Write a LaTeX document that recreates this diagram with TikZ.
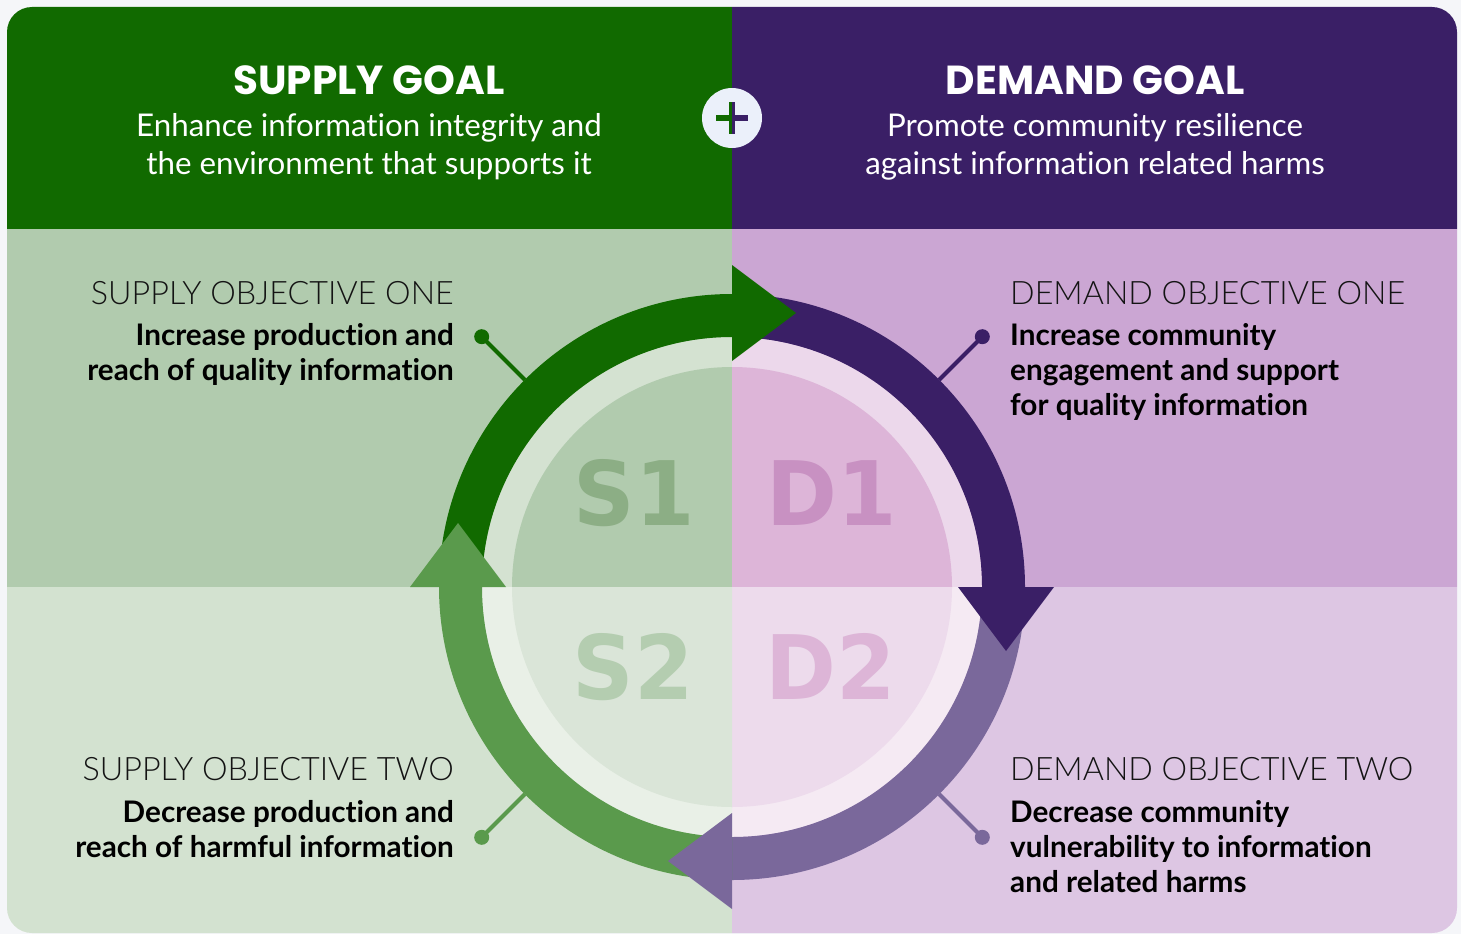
\documentclass[tikz,border=0pt]{standalone}
\usepackage{fontspec}
\usepackage{graphicx}
\setmainfont{Lato}[Ligatures=NoCommon]
\newfontfamily\titlefont{Poppins}
\newfontfamily\bigfont{DejaVu Sans}
\IfFontExistsTF{Lato Light}{\newfontfamily\lightfont{Lato Light}[Ligatures=NoCommon]}{\newfontfamily\lightfont{Lato}[Ligatures=NoCommon]}
\definecolor{pagebg}{HTML}{F5F6F9}
\definecolor{supgreen}{HTML}{116A00}
\definecolor{dempurple}{HTML}{3A1F66}
\definecolor{ulbg}{HTML}{B1CBAE}
\definecolor{urbg}{HTML}{CBA6D3}
\definecolor{llbg}{HTML}{D3E2D0}
\definecolor{lrbg}{HTML}{DDC6E3}
\definecolor{ulring}{HTML}{D4E2D1}
\definecolor{urring}{HTML}{ECD8EB}
\definecolor{llring}{HTML}{E9F0E7}
\definecolor{lrring}{HTML}{F5EAF3}
\definecolor{ulin}{HTML}{B1CBAE}
\definecolor{urin}{HTML}{DDB5D8}
\definecolor{llin}{HTML}{DAE5D8}
\definecolor{lrin}{HTML}{EDDBEC}
\definecolor{sone}{HTML}{8CAE85}
\definecolor{done}{HTML}{C891C2}
\definecolor{stwo}{HTML}{B4CDB0}
\definecolor{dtwo}{HTML}{DDB5D7}
\definecolor{medpurple}{HTML}{7A689B}
\definecolor{ltgreen}{HTML}{5A9A4C}
\definecolor{plusbg}{HTML}{EBF0FA}
\definecolor{txt}{HTML}{141414}
\begin{document}
\begin{tikzpicture}[x=1pt,y=-1pt,
  goaltitle/.style={inner sep=0pt, text=white, font={\titlefont\bfseries\fontsize{40.5}{40}\selectfont}},
  goalsub/.style={inner sep=0pt, text=white, font={\fontsize{31.3}{31}\selectfont}},
  objlabel/.style={inner sep=0pt, text=txt, font={\lightfont\fontsize{32.3}{32}\selectfont}},
  objtext/.style={inner sep=0pt, text=black, font={\bfseries\fontsize{29.7}{30}\selectfont}},
  bigtag/.style={inner sep=0pt, font={\bigfont\bfseries\fontsize{89}{89}\selectfont}},
  leader/.style={line width=4pt},
  dotmark/.style={circle, inner sep=0pt, minimum size=15pt}
]
\useasboundingbox (0,0) rectangle (1461,934);
\fill[pagebg] (0,0) rectangle (1461,934);
% panels
\begin{scope}
  \clip[rounded corners=25pt] (7,7) rectangle (1457,933);
  \fill[supgreen] (0,0) rectangle (732,229);
  \fill[dempurple] (732,0) rectangle (1461,229);
  \fill[ulbg] (0,229) rectangle (732,587);
  \fill[urbg] (732,229) rectangle (1461,587);
  \fill[llbg] (0,587) rectangle (732,934);
  \fill[lrbg] (732,587) rectangle (1461,934);
\end{scope}
\coordinate (C) at (732,587);
\begin{scope}[shift={(732,587)}]
  % ring
  \fill[ulring] (0,0) -- (180:250) arc[start angle=180,end angle=270,radius=250] -- cycle;
  \fill[urring] (0,0) -- (270:250) arc[start angle=270,end angle=360,radius=250] -- cycle;
  \fill[lrring] (0,0) -- (0:250) arc[start angle=0,end angle=90,radius=250] -- cycle;
  \fill[llring] (0,0) -- (90:250) arc[start angle=90,end angle=180,radius=250] -- cycle;
  % inner disc
  \fill[ulin] (0,0) -- (180:220) arc[start angle=180,end angle=270,radius=220] -- cycle;
  \fill[urin] (0,0) -- (270:220) arc[start angle=270,end angle=360,radius=220] -- cycle;
  \fill[lrin] (0,0) -- (0:220) arc[start angle=0,end angle=90,radius=220] -- cycle;
  \fill[llin] (0,0) -- (90:220) arc[start angle=90,end angle=180,radius=220] -- cycle;
  % arrow bodies
  \fill[supgreen] (180:293) arc[start angle=180,end angle=270,radius=293] -- (270:250) arc[start angle=270,end angle=180,radius=250] -- cycle;
  \fill[dempurple] (270:293) arc[start angle=270,end angle=360,radius=293] -- (0:250) arc[start angle=360,end angle=270,radius=250] -- cycle;
  \fill[medpurple] (0:293) arc[start angle=0,end angle=90,radius=293] -- (90:250) arc[start angle=90,end angle=0,radius=250] -- cycle;
  \fill[ltgreen] (90:293) arc[start angle=90,end angle=180,radius=293] -- (180:250) arc[start angle=180,end angle=90,radius=250] -- cycle;
  % arrow heads
  \fill[supgreen] (0,-322) -- (64,-274) -- (0,-226) -- cycle;
  \fill[dempurple] (226,0) -- (274,64) -- (322,0) -- cycle;
  \fill[medpurple] (0,226) -- (-64,274) -- (0,322) -- cycle;
  \fill[ltgreen] (-226,0) -- (-274,-64) -- (-322,0) -- cycle;
  % leader end points
  \coordinate (s1a) at (225:293); \coordinate (s1b) at (225:354);
  \coordinate (d1a) at (315:293); \coordinate (d1b) at (315:354);
  \coordinate (s2a) at (135:293); \coordinate (s2b) at (135:354);
  \coordinate (d2a) at (45:293);  \coordinate (d2b) at (45:354);
\end{scope}
% leaders with dots
\node[dotmark, fill=supgreen] (s1dot) at (s1b) {};
\node[dotmark, fill=dempurple] (d1dot) at (d1b) {};
\node[dotmark, fill=ltgreen] (s2dot) at (s2b) {};
\node[dotmark, fill=medpurple] (d2dot) at (d2b) {};
\draw[leader, supgreen] (s1a) -- (s1dot.center);
\draw[leader, dempurple] (d1a) -- (d1dot.center);
\draw[leader, ltgreen] (s2a) -- (s2dot.center);
\draw[leader, medpurple] (d2a) -- (d2dot.center);
% big tags
\node[bigtag, text=sone, anchor=base] (S1) at (634,525) {\scalebox{0.96}[1]{S1}};
\node[bigtag, text=done, anchor=base] (D1) at (832,525) {\scalebox{0.96}[1]{D1}};
\node[bigtag, text=stwo, anchor=base] (S2) at (633,699) {\scalebox{0.96}[1]{S2}};
\node[bigtag, text=dtwo, anchor=base] (D2) at (831,699) {\scalebox{0.96}[1]{D2}};
% plus badge
\node[circle, fill=plusbg, minimum size=60pt, inner sep=0pt] (plus) at (732,118) {};
\fill[supgreen] (716,115) rectangle (732,121);
\fill[dempurple] (732,115) rectangle (748,121);
\fill[supgreen] (729,102) rectangle (732,134);
\fill[dempurple] (732,102) rectangle (735,134);
% goal texts
\node[goaltitle, anchor=base] (sgt) at (369,94) {SUPPLY GOAL};
\node[goalsub, anchor=base] (sg1) at (369,136) {Enhance information integrity and};
\node[goalsub, anchor=base] (sg2) at (369,174) {the environment that supports it};
\node[goaltitle, anchor=base] (dgt) at (1095,94) {DEMAND GOAL};
\node[goalsub, anchor=base] (dg1) at (1095,136) {Promote community resilience};
\node[goalsub, anchor=base] (dg2) at (1095,174) {against information related harms};
% objective texts
\node[objlabel, anchor=base east] (so1) at (454,304) {SUPPLY OBJECTIVE ONE};
\node[objtext, anchor=base east] (so1a) at (454,345) {Increase production and};
\node[objtext, anchor=base east] (so1b) at (454,380) {reach of quality information};
\node[objlabel, anchor=base west] (do1) at (1010,304) {DEMAND OBJECTIVE ONE};
\node[objtext, anchor=base west] (do1a) at (1010,345) {Increase community};
\node[objtext, anchor=base west] (do1b) at (1010,380) {engagement and support};
\node[objtext, anchor=base west] (do1c) at (1010,415) {for quality information};
\node[objlabel, anchor=base east] (so2) at (454,780) {SUPPLY OBJECTIVE TWO};
\node[objtext, anchor=base east] (so2a) at (454,822) {Decrease production and};
\node[objtext, anchor=base east] (so2b) at (454,857) {reach of harmful information};
\node[objlabel, anchor=base west] (do2) at (1010,780) {DEMAND OBJECTIVE TWO};
\node[objtext, anchor=base west] (do2a) at (1010,822) {Decrease community};
\node[objtext, anchor=base west] (do2b) at (1010,857) {vulnerability to information};
\node[objtext, anchor=base west] (do2c) at (1010,892) {and related harms};
\end{tikzpicture}
\end{document}
